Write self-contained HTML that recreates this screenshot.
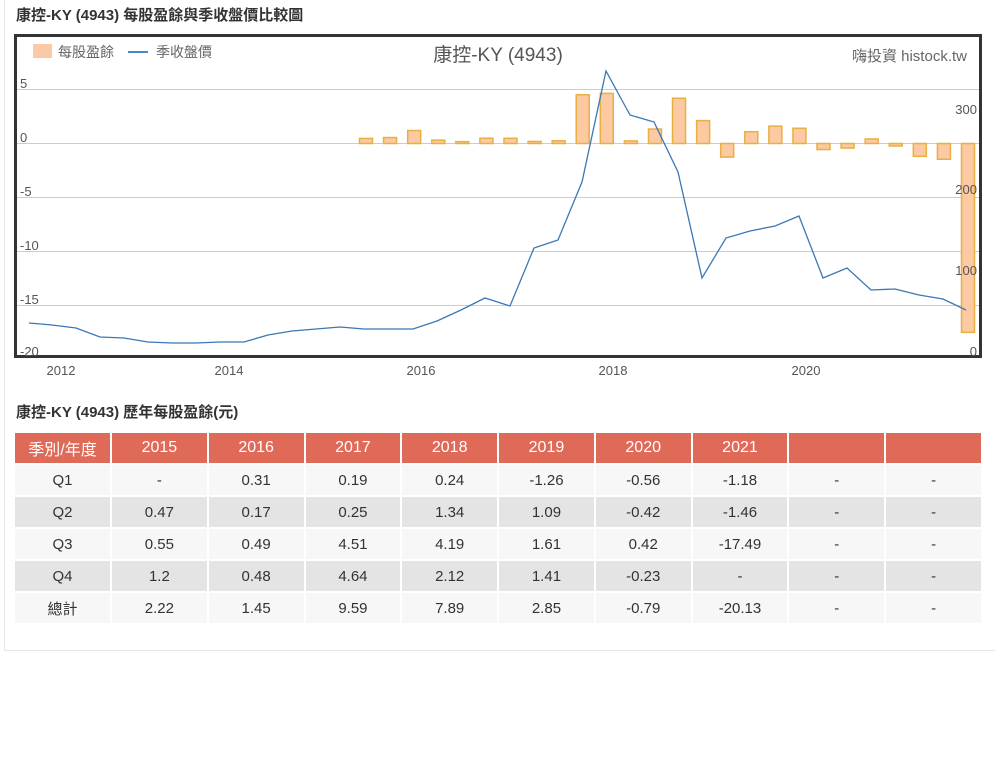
<!DOCTYPE html>
<html><head><meta charset="utf-8"><style>
body{margin:0;width:995px;height:783px;background:#fff;font-family:"Liberation Sans","Noto Sans CJK TC",sans-serif;position:relative;overflow:hidden}
.frame{position:absolute;left:4px;top:0;width:991px;height:650px;border-left:1px solid #e5e5e5;border-bottom:1px solid #e5e5e5}
.t{position:absolute;left:16px;font-size:15px;font-weight:bold;color:#333}
table{position:absolute;left:13px;top:431px;border-collapse:separate;border-spacing:2px;font-size:15px;color:#333;table-layout:fixed;width:970px}
td{height:30px;text-align:center;padding:0}
tr.h td{background:#e06a58;color:#fff;font-size:16px}
tr.a td{background:#f7f7f7}
tr.b td{background:#e4e4e4}
</style></head><body>
<div class="frame"></div>
<div class="t" style="top:4px">康控-KY (4943) 每股盈餘與季收盤價比較圖</div>
<svg style="position:absolute;left:0;top:0" width="995" height="380">
<rect x="15.5" y="35.5" width="965" height="321" fill="#fff" stroke="#333" stroke-width="3"/>
<g stroke="#ccc" stroke-width="1">
<line x1="17" x2="979" y1="89.5" y2="89.5"/><line x1="17" x2="979" y1="143.5" y2="143.5"/>
<line x1="17" x2="979" y1="197.5" y2="197.5"/><line x1="17" x2="979" y1="251.5" y2="251.5"/>
<line x1="17" x2="979" y1="305.5" y2="305.5"/>
</g>
<g id="bars" fill="#fcc9a3" stroke="#e8b040" stroke-width="1.5"></g>
<polyline fill="none" stroke="#3b78b5" stroke-width="1.3" points="29,323 52,325 76,328 100,337 124,338 148,342 172,343 196,343 220,342 244,342 268,335 292,331 316,329 340,327 364,329 389,329 413,329 437,321 461,310 485,298 510,306 534,248 558,240 582,182 606,71 630,115 654,122 678,172 702,278 726,238 750,231 775,226 799,216 823,278 847,268 871,290 895,289 919,295 943,299 966,310"/>
<g font-size="13" fill="#555">
<text x="20" y="88">5</text><text x="20" y="142">0</text><text x="20" y="196">-5</text>
<text x="20" y="250">-10</text><text x="20" y="304">-15</text><text x="20" y="356">-20</text>
<text x="977" y="114" text-anchor="end">300</text><text x="977" y="194" text-anchor="end">200</text>
<text x="977" y="275" text-anchor="end">100</text><text x="977" y="356" text-anchor="end">0</text>
<text x="61" y="375" text-anchor="middle">2012</text><text x="229" y="375" text-anchor="middle">2014</text>
<text x="421" y="375" text-anchor="middle">2016</text><text x="613" y="375" text-anchor="middle">2018</text>
<text x="806" y="375" text-anchor="middle">2020</text>
</g>
<rect x="33" y="44" width="19" height="14" fill="#fbc9a5"/>
<text x="58" y="57" font-size="14" fill="#666">每股盈餘</text>
<line x1="128" x2="148" y1="52" y2="52" stroke="#4a86c8" stroke-width="2"/>
<text x="156" y="57" font-size="14" fill="#666">季收盤價</text>
<text x="498" y="61" font-size="19" fill="#555" text-anchor="middle">康控-KY (4943)</text>
<text x="967" y="61" font-size="15" fill="#666" text-anchor="end">嗨投資 histock.tw</text>
</svg>
<div class="t" style="top:401px">康控-KY (4943) 歷年每股盈餘(元)</div>
<table>
<colgroup><col style="width:95px"><col span="9"></colgroup>
<tr class="h"><td>季別/年度</td><td>2015</td><td>2016</td><td>2017</td><td>2018</td><td>2019</td><td>2020</td><td>2021</td><td></td><td></td></tr>
<tr class="a"><td>Q1</td><td>-</td><td>0.31</td><td>0.19</td><td>0.24</td><td>-1.26</td><td>-0.56</td><td>-1.18</td><td>-</td><td>-</td></tr>
<tr class="b"><td>Q2</td><td>0.47</td><td>0.17</td><td>0.25</td><td>1.34</td><td>1.09</td><td>-0.42</td><td>-1.46</td><td>-</td><td>-</td></tr>
<tr class="a"><td>Q3</td><td>0.55</td><td>0.49</td><td>4.51</td><td>4.19</td><td>1.61</td><td>0.42</td><td>-17.49</td><td>-</td><td>-</td></tr>
<tr class="b"><td>Q4</td><td>1.2</td><td>0.48</td><td>4.64</td><td>2.12</td><td>1.41</td><td>-0.23</td><td>-</td><td>-</td><td>-</td></tr>
<tr class="a"><td>總計</td><td>2.22</td><td>1.45</td><td>9.59</td><td>7.89</td><td>2.85</td><td>-0.79</td><td>-20.13</td><td>-</td><td>-</td></tr>
</table>
<script>
var v=[0.47,0.55,1.2,0.31,0.17,0.49,0.48,0.19,0.25,4.51,4.64,0.24,1.34,4.19,2.12,-1.26,1.09,1.61,1.41,-0.56,-0.42,0.42,-0.23,-1.18,-1.46,-17.49];
var g=document.getElementById('bars'),s='';
for(var i=0;i<v.length;i++){var cx=366+i*24.08,h=Math.abs(v[i])*10.8,y=v[i]>0?143.5-h:143.5;
s+='<rect x="'+(cx-6.5)+'" y="'+y+'" width="13" height="'+Math.max(h,1)+'"/>';}
g.innerHTML=s;
</script>
</body></html>
